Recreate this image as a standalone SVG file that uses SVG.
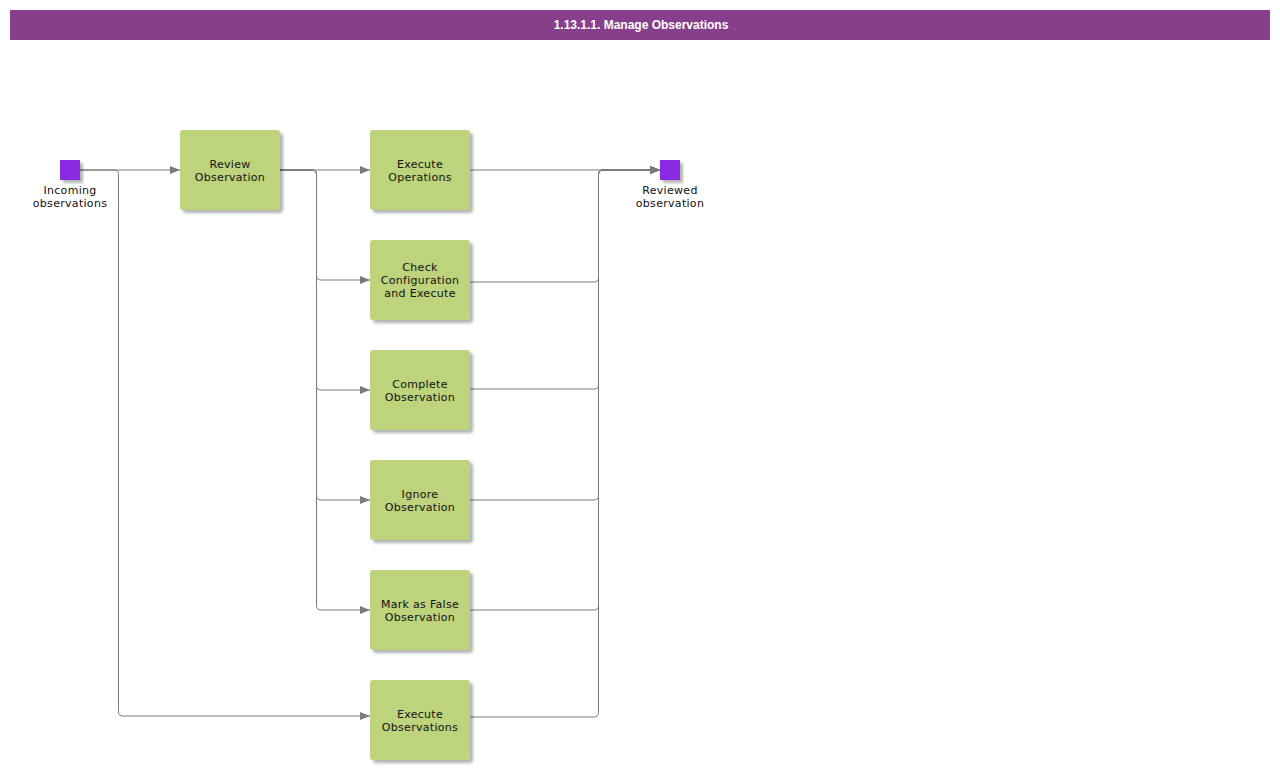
<svg xmlns="http://www.w3.org/2000/svg" width="1280" height="770" viewBox="0 0 1280 770">
<style>
.title{font-family:"Liberation Sans Narrow","Liberation Sans",Arial,sans-serif;font-size:12px;font-weight:bold;fill:#ffffff}
.task{fill:#bdd37b}
.ev{fill:#8a2be2}
.lbl{font-family:"DejaVu Sans",Verdana,sans-serif;font-size:11px;fill:#111111;text-anchor:middle;letter-spacing:0.3px}
.conn{fill:none;stroke:#7a7a7a;stroke-width:1}
</style>
<defs>
<filter id="sh" x="-20%" y="-20%" width="140%" height="140%">
<feDropShadow dx="3" dy="3" stdDeviation="1.5" flood-color="#000000" flood-opacity="0.3"/>
</filter>
<marker id="arr" viewBox="0 0 10 8" refX="10" refY="4" markerWidth="10" markerHeight="8" markerUnits="userSpaceOnUse" orient="auto">
<path d="M0,0 L10,4 L0,8 Z" fill="#7a7a7a"/>
</marker>
</defs>
<rect width="1280" height="770" fill="#ffffff"/>
<g id="header">
<rect x="10" y="10" width="1260" height="30" fill="#873f8b"/>
<text class="title" x="641" y="29" text-anchor="middle">1.13.1.1. Manage Observations</text>
</g>
<g id="connectors">
<path class="conn" d="M80,170 H180" marker-end="url(#arr)"/>
<path class="conn" d="M80,170 H114 Q118.5,170 118.5,174.5 V711.5 Q118.5,716 123,716 H370" marker-end="url(#arr)"/>
<path class="conn" d="M280,170 H370" marker-end="url(#arr)"/>
<path class="conn" d="M280,170 H312 Q316.5,170 316.5,174.5 V275.5 Q316.5,280 321,280 H370" marker-end="url(#arr)"/>
<path class="conn" d="M280,170 H312 Q316.5,170 316.5,174.5 V385.5 Q316.5,390 321,390 H370" marker-end="url(#arr)"/>
<path class="conn" d="M280,170 H312 Q316.5,170 316.5,174.5 V495.5 Q316.5,500 321,500 H370" marker-end="url(#arr)"/>
<path class="conn" d="M280,170 H312 Q316.5,170 316.5,174.5 V605.5 Q316.5,610 321,610 H370" marker-end="url(#arr)"/>
<path class="conn" d="M470,170 H660" marker-end="url(#arr)"/>
<path class="conn" d="M470,282 H594 Q598.5,282 598.5,277.5 V174.5 Q598.5,170 603,170 H660" marker-end="url(#arr)"/>
<path class="conn" d="M470,389 H594 Q598.5,389 598.5,384.5 V174.5 Q598.5,170 603,170 H660" marker-end="url(#arr)"/>
<path class="conn" d="M470,500 H594 Q598.5,500 598.5,495.5 V174.5 Q598.5,170 603,170 H660" marker-end="url(#arr)"/>
<path class="conn" d="M470,610 H594 Q598.5,610 598.5,605.5 V174.5 Q598.5,170 603,170 H660" marker-end="url(#arr)"/>
<path class="conn" d="M470,717 H594 Q598.5,717 598.5,712.5 V174.5 Q598.5,170 603,170 H660" marker-end="url(#arr)"/>
</g>
<g id="start">
<rect class="ev" x="60" y="160" width="20" height="20" filter="url(#sh)"/>
<text class="lbl" x="70" y="194">Incoming</text>
<text class="lbl" x="70" y="207">observations</text>
</g>
<g id="review">
<rect class="task" x="180" y="130" width="100" height="80" rx="3" filter="url(#sh)"/>
<text class="lbl" x="230" y="168">Review</text>
<text class="lbl" x="230" y="181">Observation</text>
</g>
<g id="exec-ops">
<rect class="task" x="370" y="130" width="100" height="80" rx="3" filter="url(#sh)"/>
<text class="lbl" x="420" y="168">Execute</text>
<text class="lbl" x="420" y="181">Operations</text>
</g>
<g id="check-config">
<rect class="task" x="370" y="240" width="100" height="80" rx="3" filter="url(#sh)"/>
<text class="lbl" x="420" y="271">Check</text>
<text class="lbl" x="420" y="284">Configuration</text>
<text class="lbl" x="420" y="297">and Execute</text>
</g>
<g id="complete">
<rect class="task" x="370" y="350" width="100" height="80" rx="3" filter="url(#sh)"/>
<text class="lbl" x="420" y="388">Complete</text>
<text class="lbl" x="420" y="401">Observation</text>
</g>
<g id="ignore">
<rect class="task" x="370" y="460" width="100" height="80" rx="3" filter="url(#sh)"/>
<text class="lbl" x="420" y="498">Ignore</text>
<text class="lbl" x="420" y="511">Observation</text>
</g>
<g id="mark-false">
<rect class="task" x="370" y="570" width="100" height="80" rx="3" filter="url(#sh)"/>
<text class="lbl" x="420" y="608">Mark as False</text>
<text class="lbl" x="420" y="621">Observation</text>
</g>
<g id="exec-obs">
<rect class="task" x="370" y="680" width="100" height="80" rx="3" filter="url(#sh)"/>
<text class="lbl" x="420" y="718">Execute</text>
<text class="lbl" x="420" y="731">Observations</text>
</g>
<g id="end">
<rect class="ev" x="660" y="160" width="20" height="20" filter="url(#sh)"/>
<text class="lbl" x="670" y="194">Reviewed</text>
<text class="lbl" x="670" y="207">observation</text>
</g>
</svg>
